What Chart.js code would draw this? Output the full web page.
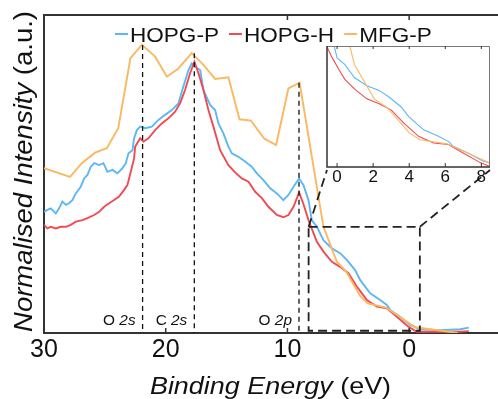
<!DOCTYPE html>
<html><head><meta charset="utf-8">
<script src="https://cdn.jsdelivr.net/npm/chart.js@4/dist/chart.umd.min.js"></script>
<style>
html,body{margin:0;padding:0;background:#fff;}
#wrap{position:relative;width:498px;height:399px;overflow:hidden;}
#main{position:absolute;left:0;top:0;}
#inset{position:absolute;left:300px;top:30px;}
</style></head><body>
<div id="wrap">
<canvas id="main" width="498" height="399"></canvas>
<canvas id="inset" width="198" height="170"></canvas>
</div>
<script>
// ---------- data ----------
const seriesNames = ['HOPG-P', 'HOPG-H', 'MFG-P'];

const hopgPEnergy = [30,29.72,29.44,29.03,28.76,28.49,28.2,27.94,27.67,27.39,26.98,26.7,26.43,26.15,25.88,25.47,25.12,24.79,24.38,23.97,23.56,23.28,23.06,22.73,22.6,22.37,22.1,21.69,21.14,20.6,20.05,19.5,18.96,18.55,18.13,17.86,17.58,17.17,16.9,16.35,15.94,15.67,15.26,14.85,14.57,14.03,13.48,12.93,12.51,11.97,11.42,10.87,10.33,9.92,9.5,9.04,8.68,8.27,8.0,7.58,7.04,6.35,5.67,5.12,4.44,4.03,3.2,2.38,1.83,1.56,0.74,-0.08,-0.9,-2.55,-4.2,-4.9];
const hopgPIntensity = [0.381,0.387,0.392,0.376,0.392,0.413,0.403,0.408,0.418,0.439,0.46,0.486,0.497,0.523,0.534,0.528,0.534,0.507,0.513,0.502,0.518,0.534,0.565,0.575,0.612,0.638,0.649,0.644,0.649,0.67,0.686,0.701,0.722,0.775,0.827,0.848,0.837,0.827,0.764,0.717,0.701,0.659,0.628,0.586,0.565,0.554,0.539,0.523,0.502,0.481,0.455,0.439,0.418,0.434,0.46,0.486,0.465,0.418,0.355,0.334,0.292,0.266,0.251,0.23,0.198,0.167,0.125,0.104,0.088,0.072,0.051,0.025,0.012,0.009,0.012,0.017];

const hopgHEnergy = [30,29.72,29.44,29.03,28.62,28.2,27.8,27.39,26.84,26.43,25.88,25.47,25.06,24.65,24.24,23.83,23.42,23.15,22.87,22.6,22.51,22.1,21.83,21.42,20.87,20.32,19.78,19.23,18.82,18.41,18.0,17.64,17.31,16.9,16.49,16.08,15.53,14.85,14.3,13.75,13.2,12.65,12.1,11.56,10.87,10.33,9.92,9.5,9.04,8.68,8.27,7.86,7.58,7.04,6.35,5.67,4.99,4.3,3.48,2.65,1.83,1.01,0.06,-0.63,-2.55,-4.2,-4.9];
const hopgHIntensity = [0.34,0.329,0.334,0.329,0.334,0.334,0.34,0.35,0.355,0.361,0.371,0.381,0.397,0.408,0.418,0.429,0.45,0.465,0.507,0.549,0.586,0.612,0.602,0.612,0.638,0.659,0.675,0.696,0.722,0.764,0.817,0.853,0.817,0.764,0.701,0.649,0.575,0.528,0.505,0.486,0.476,0.444,0.424,0.397,0.371,0.364,0.371,0.397,0.442,0.405,0.355,0.314,0.287,0.256,0.224,0.208,0.188,0.146,0.104,0.083,0.078,0.051,0.02,0.004,0.004,0.004,0.006];

const mfgPEnergy = [30,27.86,26.9,25.8,24.84,23.9,22.9,21.96,20.87,19.9,18.96,17.86,16.9,15.94,14.85,13.94,13.0,11.89,10.93,9.92,9.0,7.04,5.94,5.2,4.0,3.4,1.9,-0.5,-4.0];
const mfgPIntensity = [0.518,0.491,0.534,0.567,0.581,0.644,0.864,0.906,0.869,0.806,0.832,0.88,0.843,0.799,0.804,0.672,0.668,0.611,0.591,0.769,0.787,0.334,0.224,0.195,0.115,0.093,0.08,0.018,0.0];

const xTickValues = [30, 20, 10, 0];
const topTickValues = [10, 0];
const insetTickLabels = [0, 2, 4, 6, 8];
const insetLabelOffset = 8;          // inset labels read as (8 - binding energy)
const peakLabels = ['O 2s', 'C 2s', 'O 2p'];
const peakEnergies = [21.9, 17.65, 9.05];
const peakTops = [0.906, 0.88, 0.787];
const zoomBoxEnergy = [8.26, -0.88];
const zoomBoxIntensity = [0.007, 0.334];

// ---------- styles ----------
const FONT = '"Liberation Sans", Arial, Helvetica, sans-serif';
const AX = '#333333';
const COLORS = ['#5cb8f4', '#f04b53', '#fbb863'];

function pts(xs, ys) { return xs.map((x, i) => ({x: x, y: ys[i]})); }
const seriesData = [pts(hopgPEnergy, hopgPIntensity), pts(hopgHEnergy, hopgHIntensity), pts(mfgPEnergy, mfgPIntensity)];
const drawOrder = [2, 1, 0];

function makeDatasets(width) {
  return seriesNames.map((n, i) => ({
    label: n, data: seriesData[i], borderColor: COLORS[i], backgroundColor: COLORS[i],
    borderWidth: width, pointRadius: 0, tension: 0, fill: false, order: drawOrder[i]
  }));
}

function drawRich(ctx, parts, x, y, size, align, stretch) {
  ctx.save();
  const widths = parts.map(p => { ctx.font = (p[1] ? 'italic ' : '') + size + 'px ' + FONT; return ctx.measureText(p[0]).width; });
  const total = widths.reduce((a, b) => a + b, 0) * stretch;
  const start = align === 'center' ? x - total / 2 : (align === 'right' ? x - total : x);
  ctx.translate(start, y);
  ctx.scale(stretch, 1);
  ctx.textAlign = 'left'; ctx.textBaseline = 'alphabetic'; ctx.fillStyle = '#111';
  let cx = 0;
  parts.forEach((p, i) => { ctx.font = (p[1] ? 'italic ' : '') + size + 'px ' + FONT; ctx.fillText(p[0], cx, 0); cx += widths[i]; });
  ctx.restore();
  return total;
}

// ---------- inset chart ----------
const insetDecor = {
  id: 'insetDecor',
  beforeDraw(chart) {
    const {ctx, chartArea: a} = chart;
    ctx.save(); ctx.fillStyle = '#fff'; ctx.fillRect(a.left, a.top, a.right - a.left, a.bottom - a.top); ctx.restore();
  },
  afterDraw(chart) {
    const {ctx, chartArea: a, scales: {x}} = chart;
    ctx.save();
    ctx.strokeStyle = '#777'; ctx.lineWidth = 1;
    ctx.beginPath(); ctx.moveTo(a.left, a.top + 0.5); ctx.lineTo(a.right - 0.5, a.top + 0.5); ctx.lineTo(a.right - 0.5, a.bottom); ctx.stroke();
    ctx.strokeStyle = AX; ctx.lineWidth = 1.5;
    ctx.beginPath(); ctx.moveTo(a.left, a.top); ctx.lineTo(a.left, a.bottom); ctx.lineTo(a.right, a.bottom); ctx.stroke();
    ctx.lineWidth = 1;
    insetTickLabels.forEach(l => {
      const px = x.getPixelForValue(insetLabelOffset - l);
      ctx.beginPath(); ctx.moveTo(px, a.bottom); ctx.lineTo(px, a.bottom - 4); ctx.stroke();
      ctx.beginPath(); ctx.moveTo(px, a.top); ctx.lineTo(px, a.top + 3); ctx.stroke();
    });
    ctx.restore();
  }
};

const insetChart = new Chart(document.getElementById('inset'), {
  type: 'line',
  data: {datasets: makeDatasets(1.1)},
  options: {
    responsive: false, animation: false, devicePixelRatio: 1,
    layout: {padding: {left: 27, right: 8, top: 16, bottom: 0}},
    plugins: {legend: {display: false}, tooltip: {enabled: false}},
    scales: {
      x: {type: 'linear', reverse: true, min: -0.48, max: 8.56,
          afterBuildTicks: s => { s.ticks = insetTickLabels.map(l => ({value: insetLabelOffset - l})); },
          afterFit: s => { s.height = 33; },
          grid: {display: false, drawTicks: false}, border: {display: false},
          ticks: {font: {family: FONT, size: 17}, color: '#111', padding: 0, maxRotation: 0, autoSkip: false,
                  callback: v => String(Math.round(insetLabelOffset - v))}},
      y: {display: false, min: 0.006, max: 0.393}
    }
  },
  plugins: [insetDecor]
});

// ---------- main chart ----------
const mainDecor = {
  id: 'mainDecor',
  afterDraw(chart) {
    const {ctx, chartArea: a, scales: {x, y}} = chart;
    ctx.save();
    ctx.strokeStyle = AX; ctx.lineWidth = 2;
    ctx.beginPath(); ctx.moveTo(a.left - 1, a.top); ctx.lineTo(a.right, a.top); ctx.stroke();
    ctx.lineWidth = 1.5;
    topTickValues.forEach(v => { const px = x.getPixelForValue(v); ctx.beginPath(); ctx.moveTo(px, a.top); ctx.lineTo(px, a.top + 5); ctx.stroke(); });
    xTickValues.forEach(v => { const px = x.getPixelForValue(v); ctx.beginPath(); ctx.moveTo(px, a.bottom); ctx.lineTo(px, a.bottom - 5); ctx.stroke(); });

    ctx.strokeStyle = '#111'; ctx.lineWidth = 1.3; ctx.setLineDash([5, 4]);
    peakEnergies.forEach((e, i) => {
      const px = x.getPixelForValue(e);
      ctx.beginPath(); ctx.moveTo(px, y.getPixelForValue(peakTops[i])); ctx.lineTo(px, a.bottom); ctx.stroke();
    });
    ctx.setLineDash([]);
    peakLabels.forEach((t, i) => {
      const px = x.getPixelForValue(peakEnergies[i]);
      const parts = t.split(' ');
      drawRich(ctx, [[parts[0] + ' ', false], [parts[1], true]], px - 7, 325, 14, 'right', 1.1);
    });

    const bx0 = x.getPixelForValue(zoomBoxEnergy[0]), bx1 = x.getPixelForValue(zoomBoxEnergy[1]);
    const by0 = y.getPixelForValue(zoomBoxIntensity[1]), by1 = y.getPixelForValue(zoomBoxIntensity[0]);
    ctx.strokeStyle = '#222'; ctx.lineWidth = 1.8; ctx.setLineDash([9, 5]);
    ctx.strokeRect(bx0, by0, bx1 - bx0, by1 - by0);
    const ia = insetChart.chartArea, off = {x: 300, y: 30};
    ctx.beginPath(); ctx.moveTo(bx0, by0); ctx.lineTo(off.x + ia.left, off.y + ia.bottom + 3); ctx.stroke();
    ctx.beginPath(); ctx.moveTo(bx1, by0); ctx.lineTo(off.x + ia.right, off.y + ia.bottom + 3); ctx.stroke();
    ctx.setLineDash([]);

    drawRich(ctx, [['Binding Energy ', true], ['(eV)', false]], 270.5, 394, 24.5, 'center', 1.1);
    ctx.save(); ctx.translate(31.5, 171.5); ctx.rotate(-Math.PI / 2);
    drawRich(ctx, [['Normalised Intensity ', true], ['(a.u.)', false]], 0, 0, 25, 'center', 1.1);
    ctx.restore();

    let lx = 115;
    seriesNames.forEach((n, i) => {
      ctx.strokeStyle = COLORS[i]; ctx.lineWidth = 2;
      ctx.beginPath(); ctx.moveTo(lx, 34); ctx.lineTo(lx + 13, 34); ctx.stroke();
      const w = drawRich(ctx, [[n, false]], lx + 15, 42, 20.5, 'left', 1.1);
      lx += 15 + w + 10;
    });
    ctx.restore();
  }
};

new Chart(document.getElementById('main'), {
  type: 'line',
  data: {datasets: makeDatasets(1.9)},
  options: {
    responsive: false, animation: false, devicePixelRatio: 1,
    layout: {padding: {top: 15, left: 0, right: 0, bottom: 0}},
    plugins: {legend: {display: false}, tooltip: {enabled: false}},
    scales: {
      x: {type: 'linear', reverse: true, min: -7.3, max: 30,
          afterBuildTicks: s => { s.ticks = xTickValues.map(v => ({value: v})); },
          afterFit: s => { s.height = 66; },
          grid: {display: false, drawTicks: false},
          border: {display: true, color: AX, width: 2},
          ticks: {font: {family: FONT, size: 25}, color: '#111', padding: 2, maxRotation: 0, autoSkip: false}},
      y: {min: 0, max: 1,
          afterFit: s => { s.width = 44; },
          grid: {display: false, drawTicks: false},
          ticks: {display: false},
          border: {display: true, color: AX, width: 2}}
    }
  },
  plugins: [mainDecor]
});
</script>
</body></html>
